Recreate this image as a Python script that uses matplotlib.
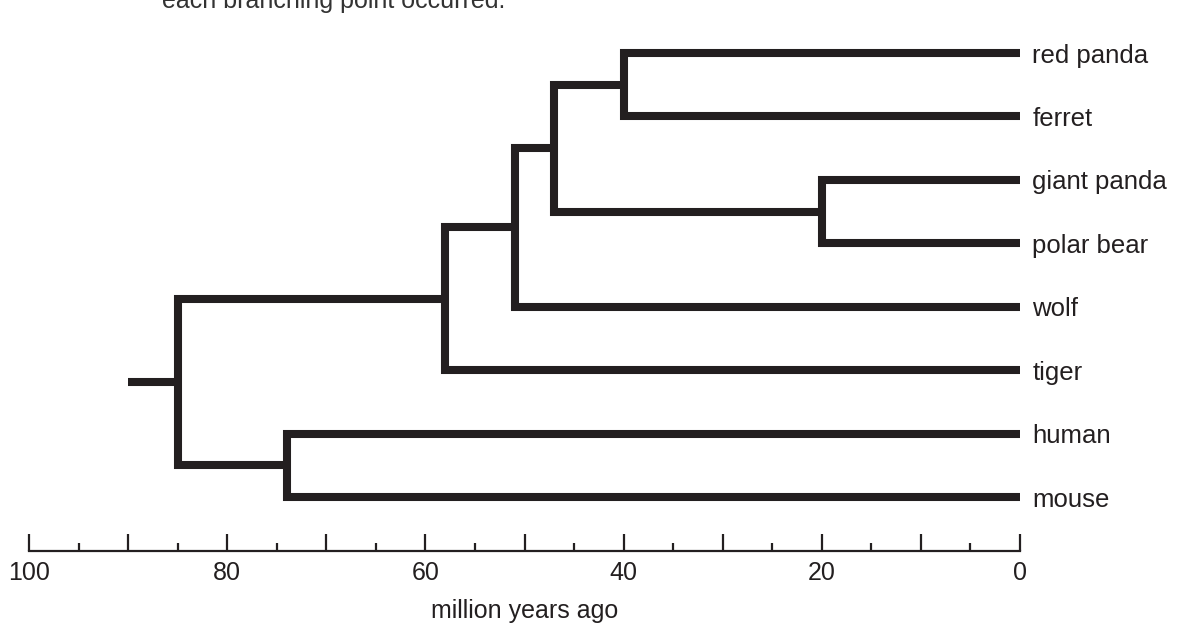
import matplotlib
matplotlib.use("Agg")
import matplotlib.pyplot as plt
from matplotlib.ticker import MultipleLocator, FuncFormatter

# ---- data ----
taxa = ["red panda", "ferret", "giant panda", "polar bear", "wolf", "tiger", "human", "mouse"]
node_names = ["A", "B", "C", "D", "E", "F", "root"]
child_a = ["red panda", "giant panda", "A", "C", "D", "human", "E"]
child_b = ["ferret", "polar bear", "B", "wolf", "tiger", "mouse", "F"]
node_ages = [40, 20, 47, 51, 58, 74, 85]   # million years ago
root_stub_age = 90
caption = "each branching point occurred."
xlabel = "million years ago"

INK = "#231f20"
plt.rcParams["font.family"] = ["Liberation Sans", "DejaVu Sans"]

fig = plt.figure(figsize=(11.78, 6.26), dpi=100)
ax = fig.add_axes([29 / 1178, 1 - 551 / 626, 991 / 1178, (551 - 30) / 626])

# positions
ypos = {t: len(taxa) - 1 - i for i, t in enumerate(taxa)}
xpos = {t: 0.0 for t in taxa}
for name, a, b, age in zip(node_names, child_a, child_b, node_ages):
    ypos[name] = (ypos[a] + ypos[b]) / 2
    xpos[name] = age

lw = 5.8
for name, a, b, age in zip(node_names, child_a, child_b, node_ages):
    ax.plot([xpos[a], age, age, xpos[b]], [ypos[a], ypos[a], ypos[b], ypos[b]],
            color=INK, lw=lw, solid_joinstyle="miter", solid_capstyle="butt",
            clip_on=False)
ax.plot([root_stub_age, xpos["root"]], [ypos["root"], ypos["root"]],
        color=INK, lw=lw, solid_capstyle="butt", clip_on=False)

for t in taxa:
    ax.annotate(t, (0, ypos[t]), xytext=(9, 0), textcoords="offset points",
                ha="left", va="center_baseline", fontsize=18.5, color=INK,
                annotation_clip=False)

ax.set_xlim(100, 0)
ax.set_ylim(-0.851, len(taxa) - 1 + 0.363)

for s in ["top", "right", "left"]:
    ax.spines[s].set_visible(False)
ax.spines["bottom"].set_color(INK)
ax.spines["bottom"].set_linewidth(1.6)
ax.set_yticks([])
ax.xaxis.set_major_locator(MultipleLocator(10))
ax.xaxis.set_minor_locator(MultipleLocator(5))
ax.xaxis.set_major_formatter(FuncFormatter(lambda v, p: f"{v:.0f}" if round(v) % 20 == 0 else ""))
ax.tick_params(axis="x", which="major", direction="in", length=12, width=1.6,
               color=INK, labelsize=18, labelcolor=INK, pad=7)
ax.tick_params(axis="x", which="minor", direction="in", length=6, width=1.6, color=INK)
ax.set_xlabel(xlabel, fontsize=18, color=INK, labelpad=10)

fig.text(162 / 1178, 1 - 8 / 626, caption, fontsize=18, color="#333333",
         ha="left", va="baseline")

fig.savefig("out.png", dpi=100)
